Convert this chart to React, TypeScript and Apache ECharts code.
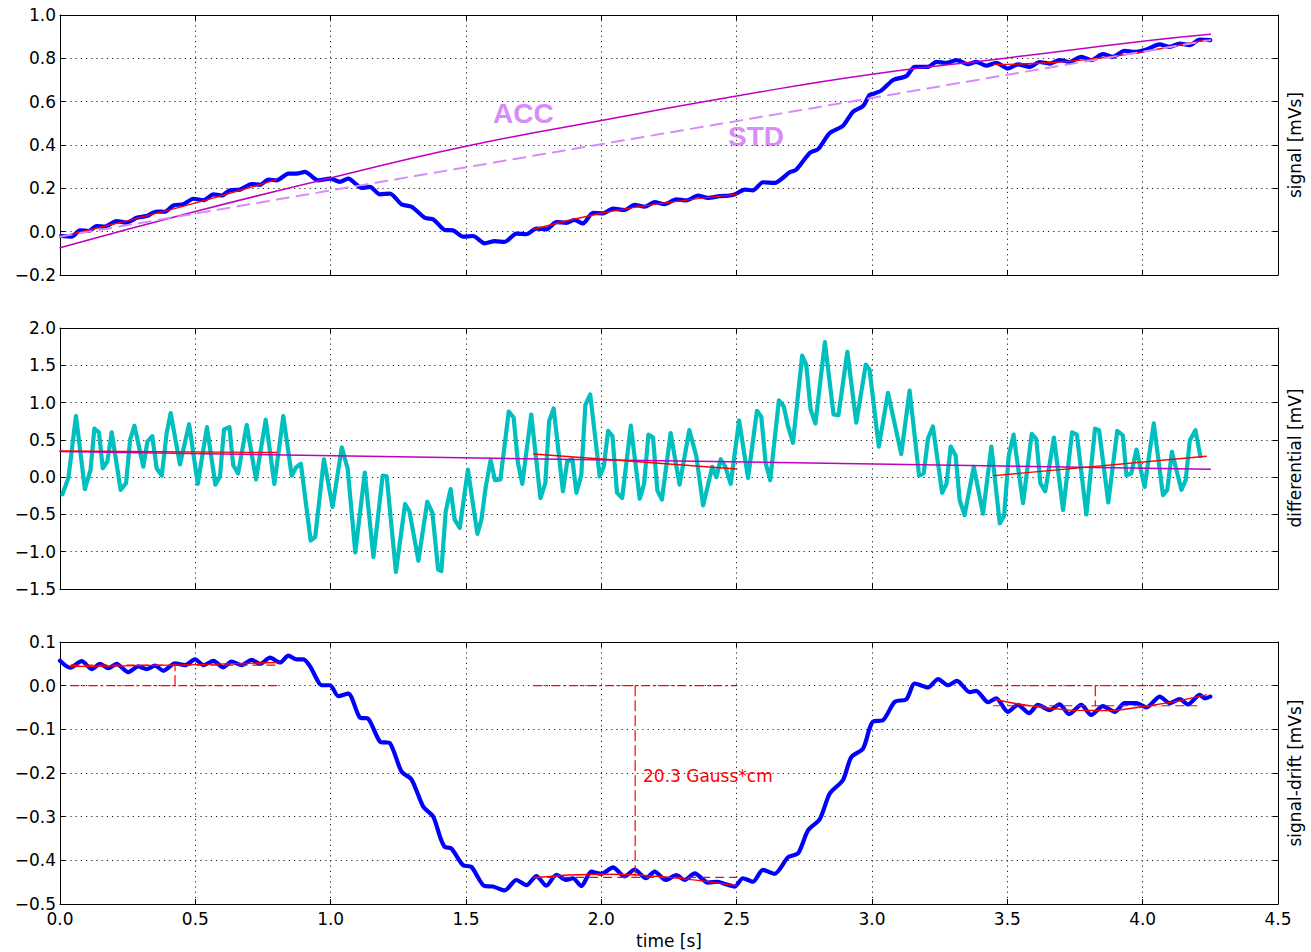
import React, { useEffect, useRef } from "react";
import * as echarts from "echarts";

// Integrated coil signal (top panel), [time s, mVs]
const signalTrace: [number, number][] = [
  [0.004, -0.02], [0.043, -0.023], [0.074, 0.006], [0.105, 0.003], [0.135, 0.026], [0.166, 0.023],
  [0.209, 0.049], [0.246, 0.041], [0.283, 0.064], [0.32, 0.072], [0.357, 0.093], [0.388, 0.092],
  [0.419, 0.121], [0.456, 0.127], [0.493, 0.152], [0.53, 0.145], [0.567, 0.172], [0.597, 0.167],
  [0.628, 0.191], [0.665, 0.194], [0.708, 0.22], [0.739, 0.216], [0.77, 0.24], [0.8, 0.237],
  [0.844, 0.268], [0.874, 0.268], [0.905, 0.276], [0.954, 0.237], [0.998, 0.245], [1.034, 0.23],
  [1.065, 0.245], [1.115, 0.202], [1.145, 0.207], [1.182, 0.172], [1.219, 0.176], [1.262, 0.126],
  [1.299, 0.115], [1.348, 0.064], [1.379, 0.057], [1.404, 0.026], [1.421, 0.008], [1.452, 0.006],
  [1.489, -0.023], [1.526, -0.02], [1.569, -0.054], [1.606, -0.044], [1.643, -0.047], [1.686, -0.009],
  [1.723, -0.012], [1.76, 0.014], [1.797, 0.011], [1.834, 0.044], [1.871, 0.041], [1.901, 0.054],
  [1.932, 0.038], [1.969, 0.087], [2.006, 0.084], [2.043, 0.106], [2.086, 0.1], [2.123, 0.124],
  [2.16, 0.115], [2.197, 0.136], [2.234, 0.127], [2.277, 0.149], [2.314, 0.144], [2.357, 0.167],
  [2.394, 0.156], [2.437, 0.164], [2.474, 0.167], [2.493, 0.172], [2.53, 0.194], [2.56, 0.191],
  [2.597, 0.228], [2.64, 0.225], [2.696, 0.274], [2.72, 0.286], [2.77, 0.363], [2.801, 0.381],
  [2.844, 0.455], [2.893, 0.489], [2.93, 0.554], [2.967, 0.58], [2.991, 0.631], [3.004, 0.636],
  [3.034, 0.651], [3.078, 0.7], [3.127, 0.718], [3.158, 0.761], [3.207, 0.761], [3.238, 0.784],
  [3.275, 0.779], [3.312, 0.792], [3.355, 0.773], [3.385, 0.784], [3.422, 0.766], [3.459, 0.779],
  [3.502, 0.753], [3.539, 0.772], [3.583, 0.761], [3.619, 0.783], [3.656, 0.776], [3.693, 0.792],
  [3.73, 0.783], [3.773, 0.807], [3.81, 0.792], [3.853, 0.819], [3.89, 0.807], [3.933, 0.835],
  [3.97, 0.83], [4.014, 0.841], [4.063, 0.864], [4.1, 0.853], [4.137, 0.868], [4.174, 0.861],
  [4.211, 0.887], [4.25, 0.884],
];

// Differential coil voltage (middle panel), [time s, mV]
const differentialTrace: [number, number][] = [
  [0.009, -0.23], [0.031, -0.01], [0.059, 0.82], [0.092, -0.16], [0.113, 0.1], [0.127, 0.65],
  [0.144, 0.6], [0.158, 0.12], [0.175, 0.21], [0.191, 0.6], [0.224, -0.17], [0.244, -0.08],
  [0.259, 0.5], [0.275, 0.69], [0.308, 0.14], [0.323, 0.48], [0.341, 0.55], [0.357, 0.12],
  [0.376, 0.02], [0.394, 0.59], [0.409, 0.86], [0.443, 0.17], [0.477, 0.71], [0.509, -0.09],
  [0.543, 0.67], [0.574, -0.1], [0.591, 0.01], [0.606, 0.64], [0.626, 0.67], [0.64, 0.16],
  [0.658, 0.05], [0.69, 0.7], [0.724, -0.03], [0.76, 0.77], [0.792, -0.09], [0.825, 0.82],
  [0.856, 0.02], [0.872, 0.13], [0.89, 0.18], [0.926, -0.85], [0.943, -0.8], [0.975, 0.24],
  [1.007, -0.4], [1.041, 0.4], [1.063, 0.11], [1.091, -1.01], [1.126, 0.06], [1.158, -1.07],
  [1.192, 0.02], [1.207, 0.01], [1.241, -1.27], [1.275, -0.36], [1.291, -0.46], [1.324, -1.12],
  [1.357, -0.33], [1.376, -0.48], [1.397, -1.24], [1.409, -1.26], [1.425, -0.46], [1.443, -0.16],
  [1.458, -0.57], [1.477, -0.68], [1.507, 0.1], [1.542, -0.76], [1.557, -0.57], [1.573, -0.13],
  [1.591, 0.23], [1.607, -0.04], [1.627, -0.03], [1.658, 0.88], [1.676, 0.8], [1.692, 0.19],
  [1.708, -0.09], [1.741, 0.84], [1.775, -0.28], [1.793, -0.08], [1.807, 0.75], [1.824, 0.92],
  [1.858, -0.19], [1.874, 0.21], [1.893, 0.24], [1.908, -0.21], [1.926, 0.03], [1.941, 0.97],
  [1.959, 1.11], [1.994, 0.01], [2.009, 0.14], [2.025, 0.62], [2.041, 0.55], [2.058, -0.21],
  [2.077, -0.28], [2.109, 0.69], [2.142, -0.29], [2.158, -0.09], [2.174, 0.57], [2.191, 0.53],
  [2.207, -0.18], [2.224, -0.3], [2.256, 0.59], [2.289, -0.1], [2.325, 0.63], [2.351, 0.28],
  [2.376, -0.38], [2.41, 0.14], [2.425, 0.0], [2.441, 0.24], [2.458, 0.14], [2.478, -0.09],
  [2.509, 0.76], [2.542, -0.01], [2.575, 0.89], [2.591, 0.81], [2.607, 0.19], [2.624, -0.04],
  [2.656, 1.03], [2.674, 0.95], [2.69, 0.68], [2.708, 0.46], [2.742, 1.63], [2.757, 1.51],
  [2.773, 0.91], [2.791, 0.72], [2.826, 1.81], [2.858, 0.84], [2.876, 0.83], [2.909, 1.68],
  [2.942, 0.73], [2.977, 1.51], [2.991, 1.44], [3.025, 0.41], [3.059, 1.13], [3.108, 0.31],
  [3.139, 1.16], [3.174, 0.02], [3.191, 0.05], [3.207, 0.52], [3.225, 0.68], [3.259, -0.21],
  [3.275, -0.09], [3.291, 0.41], [3.309, 0.29], [3.324, -0.31], [3.342, -0.51], [3.376, 0.14],
  [3.41, -0.49], [3.441, 0.41], [3.472, -0.62], [3.488, -0.52], [3.505, 0.28], [3.523, 0.57],
  [3.558, -0.35], [3.59, 0.58], [3.607, 0.51], [3.622, -0.08], [3.64, -0.19], [3.672, 0.53],
  [3.706, -0.44], [3.739, 0.6], [3.757, 0.57], [3.792, -0.5], [3.824, 0.65], [3.839, 0.63],
  [3.873, -0.34], [3.906, 0.62], [3.927, 0.56], [3.94, 0.02], [3.958, 0.05], [3.977, 0.37],
  [4.007, -0.13], [4.041, 0.72], [4.075, -0.24], [4.091, -0.17], [4.108, 0.34], [4.143, -0.17],
  [4.159, -0.04], [4.174, 0.49], [4.195, 0.63], [4.213, 0.28],
];

// Signal with the drift removed (bottom panel), [time s, mVs]
const driftFreeTrace: [number, number][] = [
  [0.0, 0.057], [0.037, 0.041], [0.08, 0.056], [0.117, 0.038], [0.148, 0.05], [0.179, 0.04],
  [0.209, 0.05], [0.252, 0.031], [0.289, 0.044], [0.32, 0.038], [0.351, 0.046], [0.382, 0.034],
  [0.425, 0.051], [0.462, 0.047], [0.499, 0.06], [0.53, 0.047], [0.567, 0.057], [0.603, 0.042],
  [0.634, 0.055], [0.671, 0.047], [0.708, 0.059], [0.739, 0.05], [0.776, 0.064], [0.813, 0.053],
  [0.844, 0.069], [0.874, 0.06], [0.899, 0.06], [0.924, 0.044], [0.954, 0.009], [0.967, 0.001],
  [0.998, 0.001], [1.028, -0.024], [1.065, -0.018], [1.108, -0.073], [1.139, -0.076], [1.182, -0.128],
  [1.219, -0.132], [1.262, -0.197], [1.299, -0.215], [1.342, -0.277], [1.379, -0.3], [1.404, -0.346],
  [1.421, -0.369], [1.446, -0.373], [1.489, -0.411], [1.52, -0.415], [1.569, -0.459], [1.6, -0.46],
  [1.643, -0.469], [1.686, -0.445], [1.723, -0.457], [1.76, -0.436], [1.797, -0.458], [1.834, -0.433],
  [1.871, -0.445], [1.895, -0.441], [1.926, -0.459], [1.963, -0.426], [2.0, -0.431], [2.043, -0.416],
  [2.086, -0.437], [2.123, -0.421], [2.164, -0.441], [2.197, -0.426], [2.238, -0.445], [2.277, -0.434],
  [2.308, -0.445], [2.345, -0.43], [2.394, -0.451], [2.431, -0.449], [2.456, -0.454], [2.493, -0.46],
  [2.523, -0.441], [2.56, -0.449], [2.597, -0.422], [2.64, -0.431], [2.69, -0.393], [2.727, -0.384],
  [2.764, -0.331], [2.807, -0.306], [2.844, -0.247], [2.893, -0.216], [2.923, -0.164], [2.967, -0.144],
  [2.991, -0.098], [3.004, -0.082], [3.041, -0.079], [3.084, -0.037], [3.127, -0.031], [3.158, 0.005],
  [3.207, -0.004], [3.244, 0.015], [3.281, 0.001], [3.314, 0.011], [3.361, -0.015], [3.385, -0.012],
  [3.429, -0.038], [3.459, -0.029], [3.502, -0.06], [3.539, -0.044], [3.58, -0.063], [3.613, -0.044],
  [3.656, -0.056], [3.693, -0.043], [3.728, -0.065], [3.773, -0.044], [3.81, -0.067], [3.853, -0.047],
  [3.897, -0.06], [3.933, -0.04], [3.977, -0.04], [4.014, -0.05], [4.063, -0.025], [4.1, -0.04],
  [4.137, -0.031], [4.167, -0.043], [4.211, -0.021], [4.229, -0.029], [4.25, -0.025],
];

// Drift models drawn on the signal panel
const accDrift: [number, number][] = [
  [0, -0.074], [0.5, 0.093], [1.0, 0.248], [1.5, 0.394], [2.0, 0.513],
  [2.5, 0.626], [3.0, 0.727], [3.5, 0.802], [4.0, 0.879], [4.25, 0.911],
];
const stdDrift: [number, number][] = [[0, -0.023], [4.25, 0.884]];
const differentialTrend: [number, number][] = [[0, 0.345], [4.25, 0.105]];

// Local fits over the three quiet windows
const signalFits: [number, number][][] = [
  [[0.04, -0.012], [0.42, 0.105], [0.8, 0.24]],
  [[1.75, 0.011], [2.0, 0.085], [2.25, 0.135], [2.5, 0.172]],
  [[3.45, 0.772], [3.6, 0.776], [3.8, 0.795], [4.0, 0.83], [4.235, 0.886]],
];
const differentialFits: [number, number][][] = [
  [[0.0, 0.35], [0.8, 0.33]],
  [[1.75, 0.31], [2.5, 0.11]],
  [[3.45, 0.02], [4.235, 0.28]],
];
const driftFreeFits: [number, number][][] = [
  [[0.04, 0.044], [0.42, 0.047], [0.8, 0.053]],
  [[1.75, -0.44], [2.0, -0.432], [2.25, -0.439], [2.5, -0.458]],
  [[3.453, -0.031], [3.632, -0.05], [3.825, -0.057], [4.014, -0.047], [4.235, -0.021]],
];

// Window extents, mean levels and their centres
const windowStarts = [0.04, 1.75, 3.45];
const windowEnds = [0.8, 2.5, 4.2];
const windowLevels = [0.047, -0.439, -0.046];
const windowCentres = [0.425, 2.125, 3.825];

const panelNames = ["signal [mVs]", "differential [mV]", "signal-drift [mVs]"];
const xName = "time [s]";
const fluxText = "20.3 Gauss*cm";
const driftNames = ["ACC", "STD"];

const BLUE = "#0000ff";
const CYAN = "#00bfbf";
const RED = "#ff0000";
const MAGENTA = "#bf00bf";
const VIOLET = "#d98cf7";
const FONT = "DejaVu Sans";

const fmt = (v: number) => {
  let r = Math.round(v * 10) / 10;
  if (Math.abs(r) < 1e-9) r = 0;
  return r.toFixed(1).replace("-", "\u2212");
};

const grids = [
  { left: 60, right: 33, top: 15, height: 260 },
  { left: 60, right: 33, top: 328, height: 261 },
  { left: 60, right: 33, top: 642, height: 262 },
];
const yRanges = [
  { min: -0.2, max: 1.0, interval: 0.2 },
  { min: -1.5, max: 2.0, interval: 0.5 },
  { min: -0.5, max: 0.1, interval: 0.1 },
];

const gridLine = { show: true, lineStyle: { color: "#222", width: 1, type: [1.2, 4] as number[] } };

function buildOption() {
  const xAxis: any[] = [];
  const yAxis: any[] = [];
  for (let g = 0; g < 3; g++) {
    xAxis.push({
      type: "value", gridIndex: g, position: "bottom", min: 0, max: 4.5, interval: 0.5,
      axisLine: { show: true, onZero: false, lineStyle: { color: "#000", width: 1 } },
      axisTick: { show: true, inside: true, length: 5, lineStyle: { color: "#000" } },
      axisLabel: { show: g === 2, formatter: fmt, color: "#000", fontSize: 17, fontFamily: FONT, margin: 6 },
      splitLine: gridLine,
    });
    yAxis.push({
      type: "value", gridIndex: g, position: "left", ...yRanges[g],
      axisLine: { show: true, onZero: false, lineStyle: { color: "#000", width: 1 } },
      axisTick: { show: true, inside: true, length: 5, lineStyle: { color: "#000" } },
      axisLabel: { show: true, formatter: fmt, color: "#000", fontSize: 17, fontFamily: FONT, margin: 4 },
      splitLine: gridLine,
    });
  }
  for (let g = 0; g < 3; g++) {
    xAxis.push({
      type: "value", gridIndex: g, position: "top", min: 0, max: 4.5, interval: 0.5,
      axisLine: { show: true, onZero: false, lineStyle: { color: "#000", width: 1 } },
      axisTick: { show: true, inside: true, length: 5, lineStyle: { color: "#000" } },
      axisLabel: { show: false }, splitLine: { show: false },
    });
    yAxis.push({
      type: "value", gridIndex: g, position: "right", ...yRanges[g],
      axisLine: { show: true, onZero: false, lineStyle: { color: "#000", width: 1 } },
      axisTick: { show: true, inside: true, length: 5, lineStyle: { color: "#000" } },
      axisLabel: { show: false }, splitLine: { show: false },
    });
  }

  const line = (data: number[][], g: number, color: string, width: number, type: any = "solid", smooth: any = false) => ({
    type: "line", xAxisIndex: g, yAxisIndex: g, data, symbol: "none", showSymbol: false, smooth,
    silent: true, lineStyle: { color, width, type, cap: "round", join: "round" },
  });

  const series: any[] = [];
  // signal panel
  series.push(line(signalTrace, 0, BLUE, 4.2, "solid", 0.25));
  signalFits.forEach((f) => series.push(line(f, 0, RED, 1.4, "solid", true)));
  series.push(line(accDrift, 0, MAGENTA, 1.5, "solid", true));
  series.push(line(stdDrift, 0, VIOLET, 2, [12, 8]));
  // differential panel
  series.push(line(differentialTrace, 1, CYAN, 4.2));
  series.push(line(differentialTrend, 1, MAGENTA, 1.5));
  differentialFits.forEach((f) => series.push(line(f, 1, RED, 1.4)));
  // drift-removed panel
  series.push(line(driftFreeTrace, 2, BLUE, 4.2, "solid", 0.25));
  driftFreeFits.forEach((f) => series.push(line(f, 2, RED, 1.4, "solid", true)));
  for (let i = 0; i < 3; i++) {
    series.push(line([[windowStarts[i], 0], [windowEnds[i], 0]], 2, RED, 1.2, [8, 4, 2, 4]));
    series.push(line([[windowStarts[i], windowLevels[i]], [windowEnds[i], windowLevels[i]]], 2, RED, 1.2, [8, 6]));
    series.push(line([[windowCentres[i], 0], [windowCentres[i], windowLevels[i]]], 2, RED, 1.2, [10, 5]));
  }

  const graphic: any[] = [
    {
      type: "text", x: 669, y: 941,
      style: { text: xName, fontSize: 17, fontFamily: FONT, fill: "#000", align: "center", verticalAlign: "middle" },
    },
    {
      type: "text", x: 643, y: 776,
      style: { text: fluxText, fontSize: 17, fontFamily: FONT, fill: RED, align: "left", verticalAlign: "middle" },
    },
    {
      type: "text", x: 493, y: 113,
      style: { text: driftNames[0], fontSize: 28, fontWeight: "bold", fontFamily: "Liberation Sans", fill: VIOLET, align: "left", verticalAlign: "middle" },
    },
    {
      type: "text", x: 728, y: 136,
      style: { text: driftNames[1], fontSize: 28, fontWeight: "bold", fontFamily: "Liberation Sans", fill: VIOLET, align: "left", verticalAlign: "middle" },
    },
  ];
  const nameY = [145, 458, 773];
  panelNames.forEach((n, i) =>
    graphic.push({
      type: "text", x: 1295, y: nameY[i], rotation: Math.PI / 2,
      style: { text: n, fontSize: 17, fontFamily: FONT, fill: "#000", align: "center", verticalAlign: "middle" },
    })
  );

  return {
    animation: false,
    backgroundColor: "#ffffff",
    grid: grids,
    xAxis,
    yAxis,
    series,
    graphic,
  };
}

export default function App() {
  const ref = useRef<HTMLDivElement>(null);
  useEffect(() => {
    if (!ref.current) return;
    const chart = echarts.init(ref.current, undefined, { renderer: "svg" });
    chart.setOption(buildOption() as any);
    return () => chart.dispose();
  }, []);
  return (
    <div
      ref={ref}
      style={{ position: "fixed", left: 0, top: 0, width: 1311, height: 952, background: "#fff" }}
    />
  );
}
